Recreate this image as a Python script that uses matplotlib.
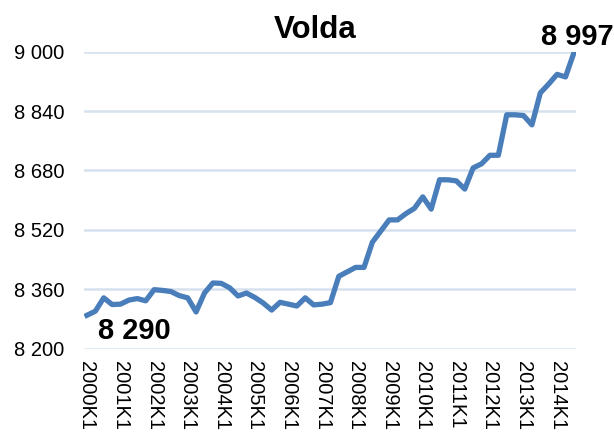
import matplotlib
matplotlib.use("Agg")
import matplotlib.pyplot as plt
from matplotlib.ticker import FuncFormatter

plt.rcParams['font.family'] = ['Liberation Sans', 'DejaVu Sans']

title = "Volda"
quarters = [f"{y}K{q}" for y in range(2000, 2015) for q in range(1, 5)][:59]
values = [8290, 8301, 8337, 8319, 8320, 8331, 8335, 8329, 8359, 8357,
          8354, 8343, 8337, 8299, 8350, 8377, 8376, 8364, 8342, 8350,
          8338, 8323, 8304, 8325, 8320, 8315, 8337, 8318, 8320, 8324,
          8395, 8407, 8419, 8419, 8487, 8517, 8547, 8547, 8564, 8578,
          8609, 8576, 8655, 8655, 8652, 8630, 8687, 8698, 8721, 8721,
          8830, 8830, 8828, 8803, 8889, 8913, 8939, 8932, 8997]
yticks = [8200, 8360, 8520, 8680, 8840, 9000]
first_label = "8 290"
last_label = "8 997"

fig = plt.figure(figsize=(6.14, 4.32), dpi=100)
ax = fig.add_axes([84/614, 1-348.7/432, (576-84)/614, (348.7-51.7)/432])

x = list(range(len(values)))
ax.plot(x, values, color='#4a7ebb', lw=3.8, solid_joinstyle='round', zorder=3)

ax.set_ylim(8200, 9000)
ax.set_yticks(yticks)
ax.yaxis.set_major_formatter(FuncFormatter(lambda v, p: f"{v:,.0f}".replace(",", " ")))
ax.set_xlim(-0.35, len(values) - 0.75)
ax.set_xticks(x[::4])
ax.set_xticklabels(quarters[::4], rotation=270, ha='center', va='top')

ax.grid(axis='y', color='#d7e1ee', lw=1.8, zorder=0)
ax.set_axisbelow(True)
for s in ax.spines.values():
    s.set_visible(False)
ax.tick_params(axis='both', length=0, labelsize=14.5, colors='black')
ax.tick_params(axis='x', pad=9)
ax.tick_params(axis='y', pad=14)

fig.text(315/614, 1-30/432, title, ha='center', va='center', fontsize=22.5, fontweight='bold')

ax.annotate(first_label, (x[0], values[0]), xytext=(47, -16), textcoords='offset pixels',
            ha='center', va='center', fontsize=21, fontweight='bold')
ax.annotate(last_label, (x[-1], values[-1]), xytext=(3, 16), textcoords='offset pixels',
            ha='center', va='center', fontsize=21, fontweight='bold', annotation_clip=False)

fig.savefig("out.png", dpi=100)
